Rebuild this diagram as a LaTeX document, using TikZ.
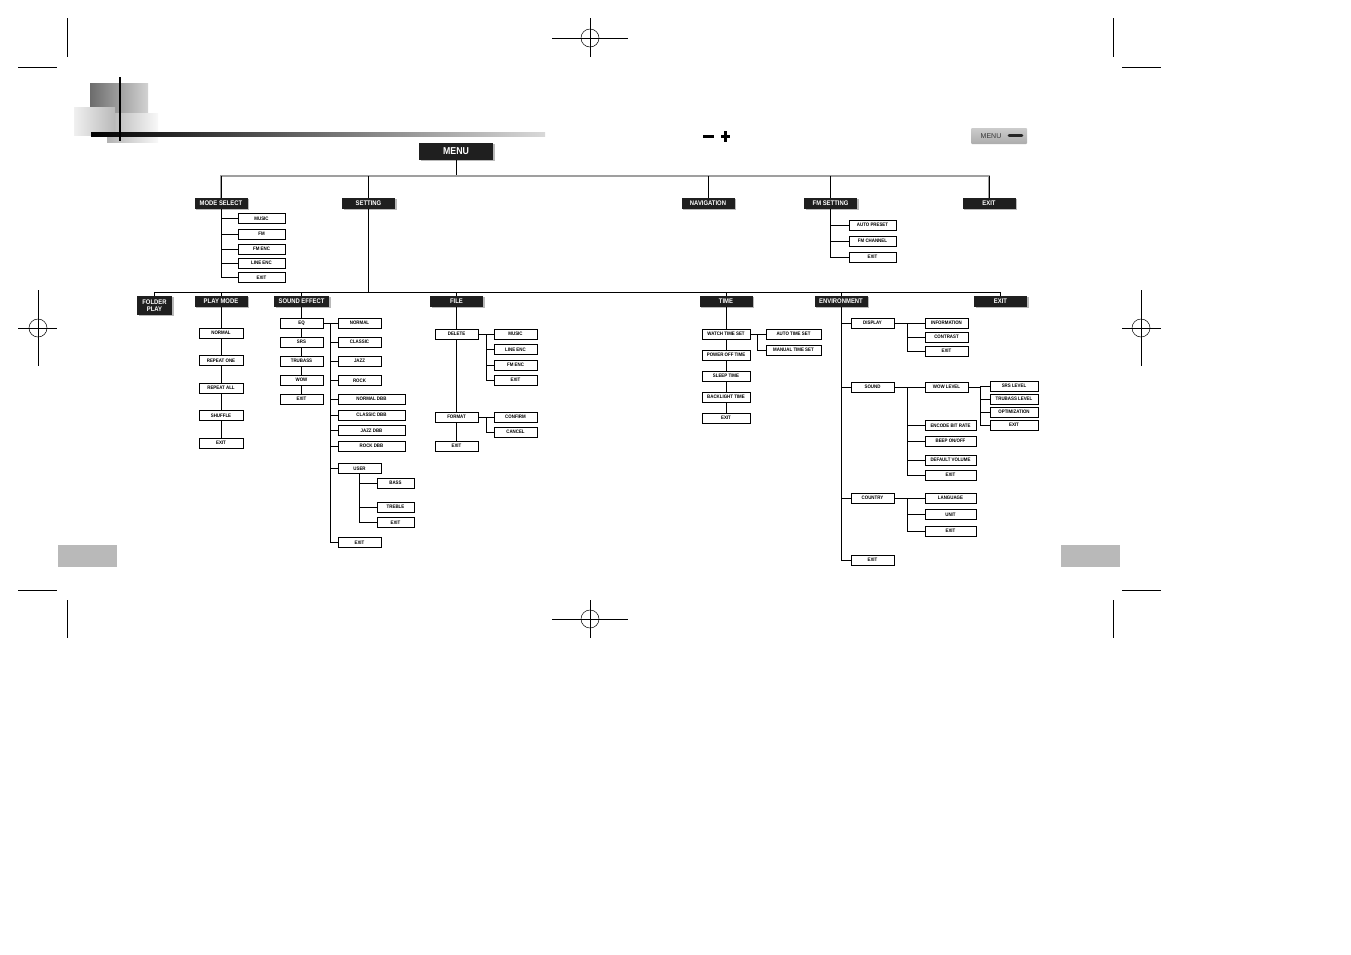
\documentclass[tikz,border=0pt]{standalone}
\usepackage{fontspec}
\newfontfamily\lsb[FakeStretch=0.88]{Liberation Sans}
\newfontfamily\lsr{Liberation Sans}
\usetikzlibrary{shadows}
\tikzset{
  wbox/.style={draw=black, line width=0.8pt, fill=white, inner sep=0pt, minimum height=10pt,
    font=\lsb\bfseries\fontsize{5}{5.5}\selectfont},
  bbox/.style={fill=black!88, text=white, inner sep=0pt, minimum height=11pt, minimum width=53pt,
    font=\lsb\bfseries\fontsize{6.7}{7.5}\selectfont,
    drop shadow={shadow xshift=1.6pt, shadow yshift=-1.4pt, fill=gray!55, opacity=1}},
  conn/.style={line width=0.8pt},
  crop/.style={line width=0.5pt}
}
\begin{document}
\begin{tikzpicture}[x=1pt,y=-1pt]
\useasboundingbox (0,0) rectangle (1351,954);
\fill[white] (0,0) rectangle (1351,954);
% ---------- crop marks ----------
\draw[crop] (67,18) -- (67,57); \draw[crop] (18,67) -- (57,67);
\draw[crop] (1113,18) -- (1113,57); \draw[crop] (1122,67) -- (1161,67);
\draw[crop] (67,600) -- (67,638); \draw[crop] (18,590) -- (57,590);
\draw[crop] (1113,600) -- (1113,638); \draw[crop] (1122,590) -- (1161,590);
\draw[crop] (552,38) -- (628,38); \draw[crop] (590,18) -- (590,57); \draw[crop] (590,38) circle[radius=9];
\draw[crop] (552,619) -- (628,619); \draw[crop] (590,600) -- (590,638); \draw[crop] (590,619) circle[radius=9];
\draw[crop] (18,328) -- (57,328); \draw[crop] (38,290) -- (38,366); \draw[crop] (38,328) circle[radius=9];
\draw[crop] (1122,328) -- (1161,328); \draw[crop] (1141,290) -- (1141,366); \draw[crop] (1141,328) circle[radius=9];
% ---------- header graphic ----------
\shade[left color=gray!85!black, right color=gray!35] (90,83) rectangle (148,113);
\shade[left color=gray!60, right color=gray!5] (107,113) rectangle (158,142);
\shade[left color=gray!12, right color=gray!55] (74,107) rectangle (115,135);
\shade[left color=black, right color=gray!30] (91,132) rectangle (545,136);
\draw[line width=1.6pt] (120,77) -- (120,141);
% minus / plus
\fill (703,134.5) rectangle (714,138);
\fill (720.5,134.5) rectangle (730,138);
\fill (723.5,131) rectangle (727,141.5);
% MENU button
\shade[top color=gray!40, bottom color=gray!65, rounded corners=1pt] (971,128) rectangle (1027,144);
\node[font=\lsr\fontsize{7}{8}\selectfont, text=black!80, inner sep=0pt] (menubtn) at (991,136.3) {MENU};
\draw[line width=2.6pt, line cap=round, black!85] (1009,135.5) -- (1022,135.5);
% bottom gray tabs
\fill[gray!55] (58,545) rectangle (117,567);
\fill[gray!55] (1061,545) rectangle (1120,567);

% ---------- root and level 1 ----------
\node[bbox, minimum width=74pt, minimum height=17pt, font=\lsb\bfseries\fontsize{10}{11}\selectfont] (menu) at (456,151.5) {MENU};
\node[bbox] (ms)  at (221,203.5) {MODE SELECT};
\node[bbox] (set) at (368.5,203.5) {SETTING};
\node[bbox] (nav) at (708,203.5) {NAVIGATION};
\node[bbox] (fms) at (830.5,203.5) {FM SETTING};
\node[bbox] (ex1) at (989,203.5) {EXIT};
\coordinate (b1) at (456,176);
\draw[conn] (menu.south) -- (b1);
\draw[line width=1.2pt, gray!75] (ms.north) |- (b1);
\draw[line width=1.2pt, gray!75] (ex1.north) |- (b1);
\draw[conn] (set.north) -- (set.north |- b1);
\draw[conn] (nav.north) -- (nav.north |- b1);
\draw[conn] (fms.north) -- (fms.north |- b1);
\draw[conn] (ms.north) -- (ms.north |- b1);
\draw[conn] (ex1.north) -- (ex1.north |- b1);

% mode select children
\node[wbox, minimum width=47pt] (ms1) at (261.5,218.5) {MUSIC};
\node[wbox, minimum width=47pt] (ms2) at (261.5,234) {FM};
\node[wbox, minimum width=47pt] (ms3) at (261.5,249) {FM ENC};
\node[wbox, minimum width=47pt] (ms4) at (261.5,263) {LINE ENC};
\node[wbox, minimum width=47pt] (ms5) at (261.5,277.5) {EXIT};
\foreach \c in {ms1,ms2,ms3,ms4,ms5} \draw[conn] (ms.south) |- (\c.west);

% FM setting children
\node[wbox, minimum width=47pt] (fm1) at (872.5,225) {AUTO PRESET};
\node[wbox, minimum width=47pt] (fm2) at (872.5,241) {FM CHANNEL};
\node[wbox, minimum width=47pt] (fm3) at (872.5,257) {EXIT};
\foreach \c in {fm1,fm2,fm3} \draw[conn] (fms.south) |- (\c.west);

% ---------- level 2 ----------
\node[bbox, minimum width=35pt, minimum height=19pt, align=center, font=\lsb\bfseries\fontsize{6.7}{7.3}\selectfont] (fp) at (154.5,305.5) {FOLDER\\PLAY};
\node[bbox] (pm)  at (221,301.5) {PLAY MODE};
\node[bbox, minimum width=55pt] (se) at (301.5,301.5) {SOUND EFFECT};
\node[bbox] (file) at (456.5,301.5) {FILE};
\node[bbox] (time) at (726,301.5) {TIME};
\node[bbox] (env) at (841,301.5) {ENVIRONMENT};
\node[bbox] (ex2) at (1000.5,301.5) {EXIT};
\coordinate (b2) at (368.5,292);
\draw[conn] (set.south) -- (b2);
\draw[conn] (fp.north) |- (b2);
\draw[conn] (ex2.north) |- (b2);
\foreach \c in {pm,se,file,time,env} \draw[conn] (\c.north) -- (\c.north |- b2);

% play mode
\node[wbox, minimum width=44pt] (pm1) at (221,333) {NORMAL};
\node[wbox, minimum width=44pt] (pm2) at (221,360.5) {REPEAT ONE};
\node[wbox, minimum width=44pt] (pm3) at (221,388) {REPEAT ALL};
\node[wbox, minimum width=44pt] (pm4) at (221,415.5) {SHUFFLE};
\node[wbox, minimum width=44pt] (pm5) at (221,443) {EXIT};
\draw[conn] (pm.south) -- (pm1.north);
\draw[conn] (pm1.south) -- (pm2.north);
\draw[conn] (pm2.south) -- (pm3.north);
\draw[conn] (pm3.south) -- (pm4.north);
\draw[conn] (pm4.south) -- (pm5.north);

% sound effect
\node[wbox, minimum width=43pt] (se1) at (301.5,323) {EQ};
\node[wbox, minimum width=43pt] (se2) at (301.5,342) {SRS};
\node[wbox, minimum width=43pt] (se3) at (301.5,361) {TRUBASS};
\node[wbox, minimum width=43pt] (se4) at (301.5,380) {WOW};
\node[wbox, minimum width=43pt] (se5) at (301.5,399) {EXIT};
\draw[conn] (se.south) -- (se1.north);
\draw[conn] (se1.south) -- (se2.north);
\draw[conn] (se2.south) -- (se3.north);
\draw[conn] (se3.south) -- (se4.north);
\draw[conn] (se4.south) -- (se5.north);
% EQ children
\node[wbox, minimum width=43pt] (eq1) at (359.5,323) {NORMAL};
\node[wbox, minimum width=43pt] (eq2) at (359.5,342) {CLASSIC};
\node[wbox, minimum width=43pt] (eq3) at (359.5,361) {JAZZ};
\node[wbox, minimum width=43pt] (eq4) at (359.5,380.5) {ROCK};
\node[wbox, minimum width=67pt] (eq5) at (371.5,399) {NORMAL DBB};
\node[wbox, minimum width=67pt] (eq6) at (371.5,415) {CLASSIC DBB};
\node[wbox, minimum width=67pt] (eq7) at (371.5,430.5) {JAZZ DBB};
\node[wbox, minimum width=67pt] (eq8) at (371.5,446) {ROCK DBB};
\node[wbox, minimum width=43pt] (eq9) at (359.5,468.5) {USER};
\node[wbox, minimum width=43pt] (eq10) at (359.5,542.5) {EXIT};
\coordinate (eqt) at (330,323);
\draw[conn] (se1.east) -- (eqt);
\foreach \c in {eq1,eq2,eq3,eq4,eq5,eq6,eq7,eq8,eq9,eq10} \draw[conn] (eqt) |- (\c.west);
% USER children
\node[wbox, minimum width=37pt] (us1) at (395.5,483) {BASS};
\node[wbox, minimum width=37pt] (us2) at (395.5,507) {TREBLE};
\node[wbox, minimum width=37pt] (us3) at (395.5,522.5) {EXIT};
\foreach \c in {us1,us2,us3} \draw[conn] (eq9.south) |- (\c.west);

% file
\node[wbox, minimum width=43pt] (fi1) at (456.5,334) {DELETE};
\node[wbox, minimum width=43pt] (fi2) at (456.5,417) {FORMAT};
\node[wbox, minimum width=43pt] (fi3) at (456.5,446) {EXIT};
\draw[conn] (file.south) -- (fi1.north);
\draw[conn] (fi1.south) -- (fi2.north);
\draw[conn] (fi2.south) -- (fi3.north);
\node[wbox, minimum width=43pt] (de1) at (515.5,334) {MUSIC};
\node[wbox, minimum width=43pt] (de2) at (515.5,349.5) {LINE ENC};
\node[wbox, minimum width=43pt] (de3) at (515.5,365) {FM ENC};
\node[wbox, minimum width=43pt] (de4) at (515.5,380) {EXIT};
\coordinate (delt) at (486,334);
\draw[conn] (fi1.east) -- (delt);
\foreach \c in {de1,de2,de3,de4} \draw[conn] (delt) |- (\c.west);
\node[wbox, minimum width=43pt] (fo1) at (515.5,417) {CONFIRM};
\node[wbox, minimum width=43pt] (fo2) at (515.5,432) {CANCEL};
\coordinate (fort) at (486,417);
\draw[conn] (fi2.east) -- (fort);
\foreach \c in {fo1,fo2} \draw[conn] (fort) |- (\c.west);

% time
\node[wbox, minimum width=48pt] (ti1) at (726,334) {WATCH TIME SET};
\node[wbox, minimum width=48pt] (ti2) at (726,355) {POWER OFF TIME};
\node[wbox, minimum width=48pt] (ti3) at (726,376) {SLEEP TIME};
\node[wbox, minimum width=48pt] (ti4) at (726,397) {BACKLIGHT TIME};
\node[wbox, minimum width=48pt] (ti5) at (726,418) {EXIT};
\draw[conn] (time.south) -- (ti1.north);
\draw[conn] (ti1.south) -- (ti2.north);
\draw[conn] (ti2.south) -- (ti3.north);
\draw[conn] (ti3.south) -- (ti4.north);
\draw[conn] (ti4.south) -- (ti5.north);
\node[wbox, minimum width=55pt] (wt1) at (793.5,334) {AUTO TIME SET};
\node[wbox, minimum width=55pt] (wt2) at (793.5,350) {MANUAL TIME SET};
\coordinate (wtt) at (757,334);
\draw[conn] (ti1.east) -- (wtt);
\foreach \c in {wt1,wt2} \draw[conn] (wtt) |- (\c.west);

% environment
\node[wbox, minimum width=43pt] (en1) at (872.5,323) {DISPLAY};
\node[wbox, minimum width=43pt] (en2) at (872.5,387) {SOUND};
\node[wbox, minimum width=43pt] (en3) at (872.5,498) {COUNTRY};
\node[wbox, minimum width=43pt] (en4) at (872.5,560) {EXIT};
\foreach \c in {en1,en2,en3,en4} \draw[conn] (env.south) |- (\c.west);
% display
\node[wbox, minimum width=43pt] (di1) at (946.5,323) {INFORMATION};
\node[wbox, minimum width=43pt] (di2) at (946.5,337) {CONTRAST};
\node[wbox, minimum width=43pt] (di3) at (946.5,351) {EXIT};
\coordinate (dit) at (907,323);
\draw[conn] (en1.east) -- (dit);
\foreach \c in {di1,di2,di3} \draw[conn] (dit) |- (\c.west);
% sound
\node[wbox, minimum width=43pt] (so1) at (946.5,387) {WOW LEVEL};
\node[wbox, minimum width=51pt] (so2) at (950.5,425.5) {ENCODE BIT RATE};
\node[wbox, minimum width=51pt] (so3) at (950.5,441) {BEEP ON/OFF};
\node[wbox, minimum width=51pt] (so4) at (950.5,460) {DEFAULT VOLUME};
\node[wbox, minimum width=51pt] (so5) at (950.5,475) {EXIT};
\coordinate (sot) at (907,387);
\draw[conn] (en2.east) -- (sot);
\foreach \c in {so1,so2,so3,so4,so5} \draw[conn] (sot) |- (\c.west);
% wow level
\node[wbox, minimum width=48pt] (wl1) at (1014,386) {SRS LEVEL};
\node[wbox, minimum width=48pt] (wl2) at (1014,399) {TRUBASS LEVEL};
\node[wbox, minimum width=48pt] (wl3) at (1014,412) {OPTIMIZATION};
\node[wbox, minimum width=48pt] (wl4) at (1014,425) {EXIT};
\coordinate (wlt) at (980,387);
\draw[conn] (so1.east) -- (wlt);
\foreach \c in {wl1,wl2,wl3,wl4} \draw[conn] (wlt) |- (\c.west);
% country
\node[wbox, minimum width=51pt] (co1) at (950.5,498) {LANGUAGE};
\node[wbox, minimum width=51pt] (co2) at (950.5,514.5) {UNIT};
\node[wbox, minimum width=51pt] (co3) at (950.5,531) {EXIT};
\coordinate (cot) at (907,498);
\draw[conn] (en3.east) -- (cot);
\foreach \c in {co1,co2,co3} \draw[conn] (cot) |- (\c.west);
\end{tikzpicture}
\end{document}
